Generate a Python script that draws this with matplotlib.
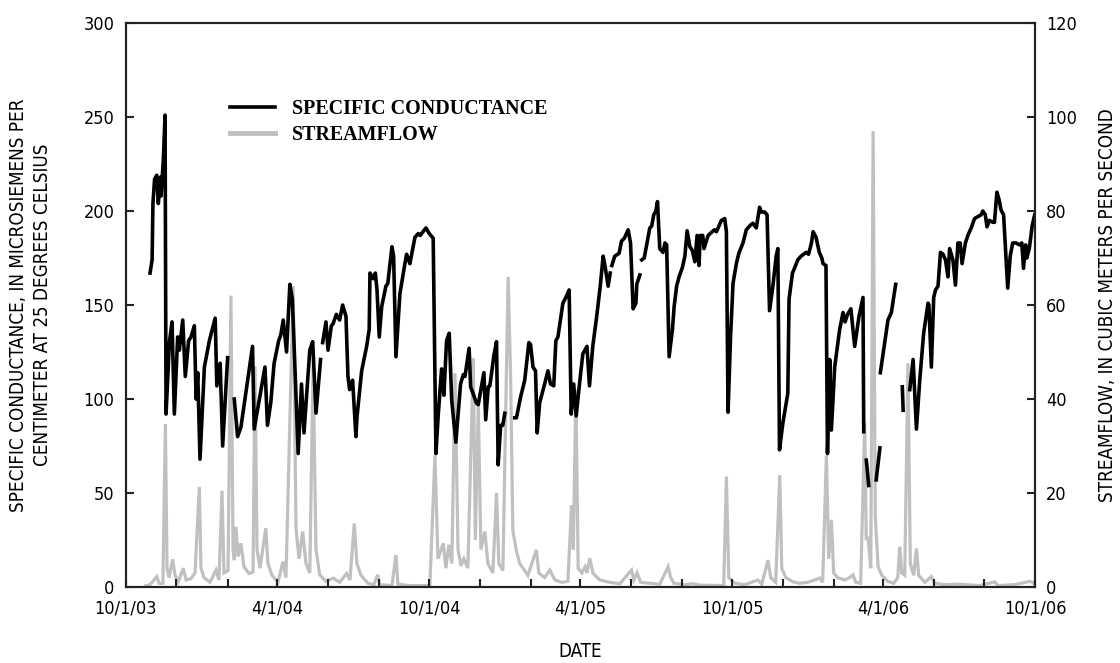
import numpy as np
import pandas as pd
import matplotlib
matplotlib.use("Agg")
import matplotlib.pyplot as plt
import matplotlib.dates as mdates
from matplotlib.ticker import FuncFormatter, MultipleLocator

NAN = np.nan
START = pd.Timestamp("2003-10-01")
END = pd.Timestamp("2006-10-01")

# Specific conductance (microsiemens/cm at 25 C); day = days since 10/1/03, NaN = gap in record
sc_day = [29.5, 32, 33, 35, 37.6, 39.5, 42, 42.8, 45.5, 47.6,
          48.8, 52.8, 56, 58.8, 62.8, 64.8, 68.9, 72, 76, 78.9, 82.9, 85, 87, 89.7, 95, 101, 108, 110, 114, 117, 123,
          126,
          131, 135, 139, 153, 155, 168, 171, 175, 179, 184.5, 187, 190, 194, 198, 201, 208, 212, 215, 222, 225.5,
          229.5, 235,
          236,
          237.5, 241.5, 244, 248, 250, 254, 258, 261.6, 265.6, 268, 270, 273.6, 277.6, 279, 284.5, 290.5, 293.6,
          294.5, 298.5, 301, 303, 305.7, 308.6, 313.7, 316, 321, 323, 325.8, 330.6, 336.6, 338.7, 342.6, 348.7,
          352.7, 355, 362, 366, 370.7, 374, 376.7, 380.8, 383.6, 386.8, 390, 393, 398, 403.7, 407, 409, 414, 415.8,
          423, 425, 431.8, 434, 437, 439, 443.8, 447, 449, 452, 454.5, 457,
          463,
          469, 471, 476, 481, 486, 488, 491, 494, 496, 499, 505, 509, 512, 516, 518.5, 521, 527, 530.5, 534.5, 537,
          540, 543, 547, 551, 556, 559, 563, 568, 572, 575.5, 578, 581.5, 584,
          585,
          586, 589.5, 594.7, 597.6, 601, 605.6, 608.5, 611.6, 615, 616, 619.7,
          621,
          622, 625, 631.7, 634, 636.5, 639, 641, 643.7, 647.6, 650, 652, 655, 659, 661, 664, 667, 671, 674, 676.7,
          680, 683, 686, 688.7, 691, 692.5, 695.5, 697, 702, 707, 709.5, 712, 718, 722, 724, 726, 729, 732, 736,
          739, 744, 748, 753, 756, 760, 764, 766, 770, 773, 776, 780, 784, 786, 788, 792, 798, 799.5, 803.6, 806.5,
          810, 814, 820, 823, 826.5, 828.5, 832, 836, 839, 840.5, 844, 845.8, 848.5, 850.5, 854.5, 860.5, 864.5,
          867, 870, 874, 878.6, 883.8, 888.6, 889.5,
          891,
          892.6, 895.5,
          900,
          904.5, 909,
          909.2,
          909.5, 914.7, 918.7, 922.8, 928,
          932,
          936, 937,
          941,
          945, 949, 953, 957, 961.7, 967, 968, 971, 973.8, 976, 979, 982, 985, 988, 991, 993, 997, 1000, 1003,
          1005.7, 1008, 1012, 1015, 1019, 1023, 1027, 1031, 1033, 1036, 1038, 1041, 1045, 1047, 1050, 1052.6,
          1055, 1058, 1063, 1066, 1069, 1073, 1077, 1080, 1082, 1084.6, 1086, 1089, 1092.6, 1095.5]
sc_value = [167, 174, 204, 217, 219, 204, 218, 208, 227, 251,
            92, 130, 141, 92, 133, 126, 142, 112, 131, 133, 139, 100, 114, 68, 117, 131, 143, 107, 119, 75, 122,
            NAN,
            100, 80, 85, 128, 84, 117, 86, 98, 119, 131, 134, 142, 125, 161, 153, 71, 108, 82, 126, 130.5,
            92.5, 121,
            NAN,
            130, 141, 126, 139, 140, 145, 142, 150, 144, 112, 105, 110, 80, 91, 115, 128, 137,
            167, 164, 167, 158, 133, 149, 160, 161.5, 181, 176, 122.5, 156, 172, 177, 172, 186,
            188, 187, 191, 188, 185.5, 71, 91, 116, 102, 131, 135, 99.5, 77, 108, 113, 112, 127, 106.5,
            97.7, 97, 114, 89, 106.5, 107, 123, 130.5, 65, 86, 86, 92.4,
            NAN,
            90, 90, 101, 110, 130, 129, 117, 115, 82, 98, 108, 115, 108, 107, 131, 133, 151, 154, 158, 92,
            108, 91, 108, 124, 128, 107, 128, 145, 160, 176, 170, 160, 167,
            NAN,
            171, 176, 177.5, 184, 185.5, 190, 183, 148, 151, 161, 166,
            NAN,
            174, 175, 191, 192, 198, 200, 205, 180, 178, 183, 182, 122.5, 137, 149, 160, 165, 170, 176, 189.5,
            181, 179, 173, 187, 171, 187, 187, 180, 187, 189, 190, 189, 195, 196, 189, 93, 133, 161.5, 172,
            177.5, 183, 190, 192.5, 193.5, 191, 202, 199.5, 199.5, 198, 147, 160, 176, 180, 73, 87, 103, 153, 167, 170,
            174, 176, 178, 177, 183, 189, 186, 178, 175, 172, 171, 71, 121, 83.5, 117, 137, 146,
            141, 145, 148, 128, 144, 154, 82.6,
            NAN,
            67.5, 54,
            NAN,
            57, 74,
            NAN,
            114, 130, 142, 146, 161,
            NAN,
            106.5, 94,
            NAN,
            105, 121, 84, 110, 135, 151, 150, 117, 154, 158, 160, 178, 177, 174, 165, 180, 174, 160.6, 183,
            183, 172, 183, 187, 191, 196, 197, 198, 200, 198, 191.6, 195, 194, 194, 210, 206,
            200.5, 198, 159, 176, 183, 183, 182, 183, 169.5, 182, 175, 180, 192.5, 198]

# Streamflow (cubic meters per second); day = days since 10/1/03
sf_day = [24.7, 29.5, 37.6, 40.3, 45, 48, 50, 52.4, 56.8, 59.6, 63.2, 69.6, 72.9, 78.9, 83.7, 88.9, 90.9,
          94.5, 101.8, 109, 112.6, 116.2, 118.6, 123.5, 127, 129.5, 131, 133, 135.5, 139, 142.7, 148.7, 153.6,
          156, 158.4, 162, 169, 171.6, 176.4, 183.7, 189.7, 193.3, 202, 205.4, 209, 213.4, 217.4, 222, 226,
          229.4, 234, 241.5, 250, 258, 266.4, 270.4, 275.6, 278.8, 283.6, 292, 299.3, 303.7, 306.5, 321, 325.8,
          328.2, 342.6, 366.7, 372.8, 376.4, 382.8, 386, 389.6, 393.2, 397, 400.6, 404.2, 407.7, 412.5, 419,
          421.5, 425, 428.2, 433, 436.6, 442.6, 447, 449.8, 454.7, 461, 464, 466.7, 471.2, 475, 484.8, 495, 498,
          505, 511.3, 517.3, 525.7, 533, 537.4, 539.6, 542.6, 545.4, 549.8, 553.7, 556, 559.4, 563.4, 571.5,
          583.5, 595.6, 609.7, 612.4, 616.4, 620.8, 631.7, 643.7, 653.8, 657, 660.6, 673.9, 683.5, 692, 720.8,
          724, 726.9, 734, 746, 762, 766.6, 774.2, 777.4, 783.4, 788.3, 790.7, 795.5, 804.3, 812.4, 822, 830.4,
          836.5, 840, 844.5, 847.3, 850.5, 853.3, 858, 866.6, 872.6, 876.5, 879.8, 885.8, 890.7, 892.5, 894.7,
          898, 900.8, 903.4, 906.8, 911.3, 918.5, 925.7, 930.5, 932.9, 935.3, 938.9, 942.8, 945.6, 949.7, 953,
          955.7, 963, 971, 975, 987, 1005, 1029, 1047.4, 1051, 1071.5, 1089.6, 1093, 1095.5]
sf_value = [0.3, 0.5, 2.2, 0.8, 0.8, 34.7, 4, 2, 5.9, 2.5, 1, 4.0, 1.5, 1.8, 3.0, 21.3, 4,
            2, 1, 3.6, 1.5, 20.5, 3, 3.5, 62, 8, 5.7, 12.8, 6.5, 9.3, 4.3, 2.9, 3.2,
            47, 8, 4, 12.5, 5, 2.5, 1, 5.4, 2, 64, 12.5, 6, 11.8, 5, 3, 47.6,
            8, 2.6, 1.2, 1.9, 1.0, 2.9, 1.5, 13.5, 5, 2.5, 0.8, 0.5, 2.6, 0.5, 0.3, 6.8,
            0.6, 0.3, 0.3, 28, 6, 9.3, 4, 9, 5, 45.5, 8, 4.5, 6, 4, 48.7,
            10, 39, 8, 11.8, 5, 3, 20, 5, 3.5, 66, 44.7, 12, 7.5, 5, 2.5, 7.9, 3,
            2, 3.6, 1.5, 1.0, 1.2, 17.4, 8, 42, 4, 3, 4.3, 3, 6.1, 2.9, 1.5,
            1.0, 0.7, 3.6, 1.5, 3.0, 1.0, 0.8, 0.6, 4.3, 2, 0.8, 0.5, 0.7, 0.4, 0.3,
            23.5, 2, 0.8, 0.5, 1.5, 0.6, 5.7, 2, 1, 23.8, 4, 2, 1.1, 0.8, 1.0, 1.5,
            1.9, 1, 28, 6, 14.3, 3, 2, 1.5, 2, 2.6, 1.0, 0.8, 35, 10, 10.7,
            4, 97, 15, 4.3, 2.5, 1.2, 0.8, 2, 8.6, 3, 2.5, 47.6, 5, 2.5, 8.2,
            2.5, 1, 2.2, 0.8, 0.5, 0.6, 0.3, 1.1, 0.3, 0.5, 1.2, 1.0, 0.6]

sc_label = "SPECIFIC CONDUCTANCE"
sf_label = "STREAMFLOW"
left_ylabel = "SPECIFIC CONDUCTANCE, IN MICROSIEMENS PER\nCENTIMETER AT 25 DEGREES CELSIUS"
right_ylabel = "STREAMFLOW, IN CUBIC METERS PER SECOND"
xlabel = "DATE"


def to_dates(days):
    return START + pd.to_timedelta(np.asarray(days, dtype=float), unit="D")


plt.rcParams["font.family"] = ["DejaVu Sans"]
plt.rcParams["font.stretch"] = "condensed"

fig = plt.figure(figsize=(11.2, 6.63), dpi=100)
ax = fig.add_axes([0.1121, 0.1146, 0.8121, 0.8507])
ax2 = ax.twinx()
ax.set_zorder(ax2.get_zorder() + 1)
ax.patch.set_visible(False)

gray = "#c0c0c0"
ax2.plot(to_dates(sf_day), sf_value, color=gray, lw=2.3, solid_joinstyle="miter")
l1, = ax.plot(to_dates(sc_day), sc_value, color="black", lw=2.6, label=sc_label)
l2 = plt.Line2D([], [], color=gray, lw=3.5, label=sf_label)

ax.set_xlim(START, END)
ax.set_ylim(0, 300)
ax2.set_ylim(0, 120)

ax.yaxis.set_major_locator(MultipleLocator(50))
ax2.yaxis.set_major_locator(MultipleLocator(20))
ax.xaxis.set_major_locator(mdates.MonthLocator(bymonth=[4, 10], bymonthday=1))
ax.xaxis.set_minor_locator(mdates.MonthLocator(bymonth=[2, 6, 8, 12], bymonthday=1))
ax.xaxis.set_major_formatter(FuncFormatter(
    lambda v, pos: (lambda d: f"{d.month}/{d.day}/{d.year % 100:02d}")(mdates.num2date(v))))

for a in (ax, ax2):
    for s in a.spines.values():
        s.set_linewidth(1.5)
        s.set_color("#222222")
ax.tick_params(axis="both", which="both", direction="in", length=6, width=1.5,
               labelsize=13, color="#222222")
ax.tick_params(axis="x", pad=9)
ax.tick_params(axis="y", pad=8)
ax2.tick_params(axis="y", direction="in", length=6, width=1.5, labelsize=13, pad=8, color="#222222")

ax.set_ylabel(left_ylabel, fontsize=13.5, linespacing=1.3)
ax.yaxis.set_label_coords(-0.081, 0.5)
ax2.set_ylabel(right_ylabel, fontsize=13.5, rotation=90)
ax2.yaxis.set_label_coords(1.069, 0.5)
ax.set_xlabel(xlabel, fontsize=13.5)
ax.xaxis.set_label_coords(0.5, -0.097)

leg = ax.legend(handles=[l1, l2], loc="upper left",
                bbox_to_anchor=((230 - 125.5) / 909.5, (587 - 99) / 564),
                frameon=False, borderpad=0, borderaxespad=0,
                handlelength=2.25, handletextpad=0.85, labelspacing=0.3,
                prop={"family": "Liberation Serif", "weight": "bold", "size": 14.4})

fig.savefig("out.png", dpi=100)
